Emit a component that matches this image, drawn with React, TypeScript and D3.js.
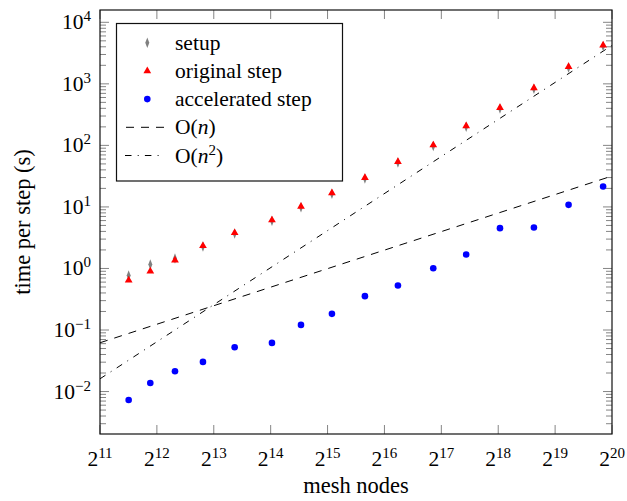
import React from 'react';
import * as d3 from 'd3';

// mesh sizes
const nodes = [2904, 3780, 5106, 7180, 10565, 16645, 23705, 34560, 51660, 77240, 118800, 177400, 267800, 405000, 617700, 941000];
const setupTime = [0.77, 1.16, 1.45, 2.28, 3.7, 5.95, 9.9, 16.4, 28.9, 52.5, 98, 200, 396, 830, 1840, 4100];
const originalTime = [0.645, 0.904, 1.36, 2.33, 3.79, 6.1, 10.2, 16.9, 29.7, 54.1, 101, 206, 408, 855, 1897, 4227];
const acceleratedTime = [0.0073, 0.0138, 0.0214, 0.0303, 0.0525, 0.0617, 0.121, 0.183, 0.355, 0.529, 1.01, 1.69, 4.52, 4.64, 10.8, 21.5];

// reference slopes: c*n and c*n^2
const linearCoef = 3.03e-5;
const quadCoef = 3.84e-9;

const xTickExps = [11, 12, 13, 14, 15, 16, 17, 18, 19, 20];
const yTickExps = [-2, -1, 0, 1, 2, 3, 4];

const legendItems = ['setup', 'original step', 'accelerated step', 'O(n)', 'O(n2)'];

const W = 627;
const H = 501;
const margin = { top: 10, right: 15, bottom: 67, left: 100 };
const font = '"Liberation Serif", "Times New Roman", serif';
const fs = 21.5;
const sup = 15;

export default function App() {
  const innerW = W - margin.left - margin.right;
  const innerH = H - margin.top - margin.bottom;

  const x = d3.scaleLog().base(2).domain([2 ** 11, 2 ** 20]).range([margin.left, margin.left + innerW]);
  const y = d3.scaleLog().domain([10 ** -2.69, 10 ** 4.2]).range([margin.top + innerH, margin.top]);

  const left = margin.left;
  const right = margin.left + innerW;
  const top = margin.top;
  const bottom = margin.top + innerH;

  const line = d3
    .line<[number, number]>()
    .x((d) => x(d[0]))
    .y((d) => y(d[1]));

  const ends = [2 ** 11, 2 ** 20];
  const linPath = line(ends.map((n) => [n, linearCoef * n] as [number, number])) || '';
  const quadPath = line(ends.map((n) => [n, quadCoef * n * n] as [number, number])) || '';

  const minorTicks: number[] = [];
  for (let e = -3; e <= 4; e++) {
    for (let k = 2; k <= 9; k++) {
      const v = k * 10 ** e;
      if (v >= y.domain()[0] && v <= y.domain()[1]) minorTicks.push(v);
    }
  }

  const tickColor = '#777';
  const diamond = d3.symbol().type(d3.symbolDiamond).size(22)() || '';
  const triangle = d3.symbol().type(d3.symbolTriangle).size(26)() || '';

  const legX = 116.5;
  const legY = 23.5;
  const rowH = 28.2;

  return (
    <svg width={W} height={H} style={{ position: 'absolute', left: 0, top: 0, background: '#fff' }} fontFamily={font}>
      <rect x={0} y={0} width={W} height={H} fill="#fff" />
      <defs>
        <clipPath id="plot">
          <rect x={left} y={top} width={innerW} height={innerH} />
        </clipPath>
      </defs>

      {/* y ticks left and right */}
      {minorTicks.map((v, i) => (
        <g key={'m' + i} stroke={tickColor} strokeWidth={0.9}>
          <line x1={left} x2={left + 6} y1={y(v)} y2={y(v)} />
          <line x1={right} x2={right - 6} y1={y(v)} y2={y(v)} />
        </g>
      ))}
      {yTickExps.map((e) => (
        <g key={'y' + e} stroke={tickColor} strokeWidth={0.9}>
          <line x1={left} x2={left + 9} y1={y(10 ** e)} y2={y(10 ** e)} />
          <line x1={right} x2={right - 9} y1={y(10 ** e)} y2={y(10 ** e)} />
        </g>
      ))}
      {/* x ticks bottom and top */}
      {xTickExps.map((e) => (
        <g key={'x' + e} stroke={tickColor} strokeWidth={0.9}>
          <line x1={x(2 ** e)} x2={x(2 ** e)} y1={bottom} y2={bottom - 9} />
          <line x1={x(2 ** e)} x2={x(2 ** e)} y1={top} y2={top + 9} />
        </g>
      ))}

      <g clipPath="url(#plot)">
        <path d={linPath} fill="none" stroke="#000" strokeWidth={1} strokeDasharray="8,7" />
        <path d={quadPath} fill="none" stroke="#000" strokeWidth={1} strokeDasharray="6.5,6.2,1,6.2" />
        {nodes.map((n, i) => (
          <path key={'s' + i} d={diamond} transform={`translate(${x(n)},${y(setupTime[i])}) scale(0.8,1.2)`} fill="#808080" />
        ))}
        {nodes.map((n, i) => (
          <path key={'o' + i} d={triangle} transform={`translate(${x(n)},${y(originalTime[i])})`} fill="#ff0000" />
        ))}
        {nodes.map((n, i) => (
          <circle key={'a' + i} cx={x(n)} cy={y(acceleratedTime[i])} r={3.3} fill="#0000ff" />
        ))}
      </g>

      <rect x={left} y={top} width={innerW} height={innerH} fill="none" stroke="#111" strokeWidth={1.2} />

      {/* tick labels */}
      {xTickExps.map((e) => (
        <text key={'xl' + e} x={x(2 ** e)} y={466} textAnchor="middle" fontSize={fs}>
          2<tspan fontSize={sup} dy={-8}>{e}</tspan>
        </text>
      ))}
      {yTickExps.map((e) => (
        <text key={'yl' + e} x={91} y={y(10 ** e) + 7} textAnchor="end" fontSize={fs}>
          10<tspan fontSize={sup} dy={-8}>{e < 0 ? '\u2212' + -e : e}</tspan>
        </text>
      ))}

      <text x={(left + right) / 2} y={493} textAnchor="middle" fontSize={fs + 1}>
        mesh nodes
      </text>
      <text transform={`translate(30,${(top + bottom) / 2}) rotate(-90)`} textAnchor="middle" fontSize={fs + 1}>
        time per step (s)
      </text>

      {/* legend */}
      <rect x={legX} y={legY} width={226} height={157.5} fill="#fff" stroke="#111" strokeWidth={1.2} />
      {legendItems.map((label, i) => {
        const cy = legY + 19.2 + i * rowH;
        let mark: React.ReactNode = null;
        if (i === 0) mark = <path d={diamond} transform={`translate(147.3,${cy}) scale(0.8,1.2)`} fill="#808080" />;
        if (i === 1) mark = <path d={triangle} transform={`translate(147.3,${cy})`} fill="#ff0000" />;
        if (i === 2) mark = <circle cx={147.3} cy={cy} r={3.3} fill="#0000ff" />;
        if (i === 3) mark = <line x1={125} x2={164} y1={cy} y2={cy} stroke="#000" strokeDasharray="8,7" strokeDashoffset={-1} />;
        if (i === 4) mark = <line x1={125} x2={164} y1={cy} y2={cy} stroke="#000" strokeDasharray="6.5,6.2,1,6.2" />;
        let text: React.ReactNode = label;
        if (i === 3)
          text = (
            <>
              O(<tspan fontStyle="italic">n</tspan>)
            </>
          );
        if (i === 4)
          text = (
            <>
              O(<tspan fontStyle="italic">n</tspan>
              <tspan fontSize={sup} dy={-8}>2</tspan>
              <tspan dy={8}>)</tspan>
            </>
          );
        return (
          <g key={'lg' + i}>
            {mark}
            <text x={175} y={cy + 7} fontSize={fs}>
              {text}
            </text>
          </g>
        );
      })}
    </svg>
  );
}
